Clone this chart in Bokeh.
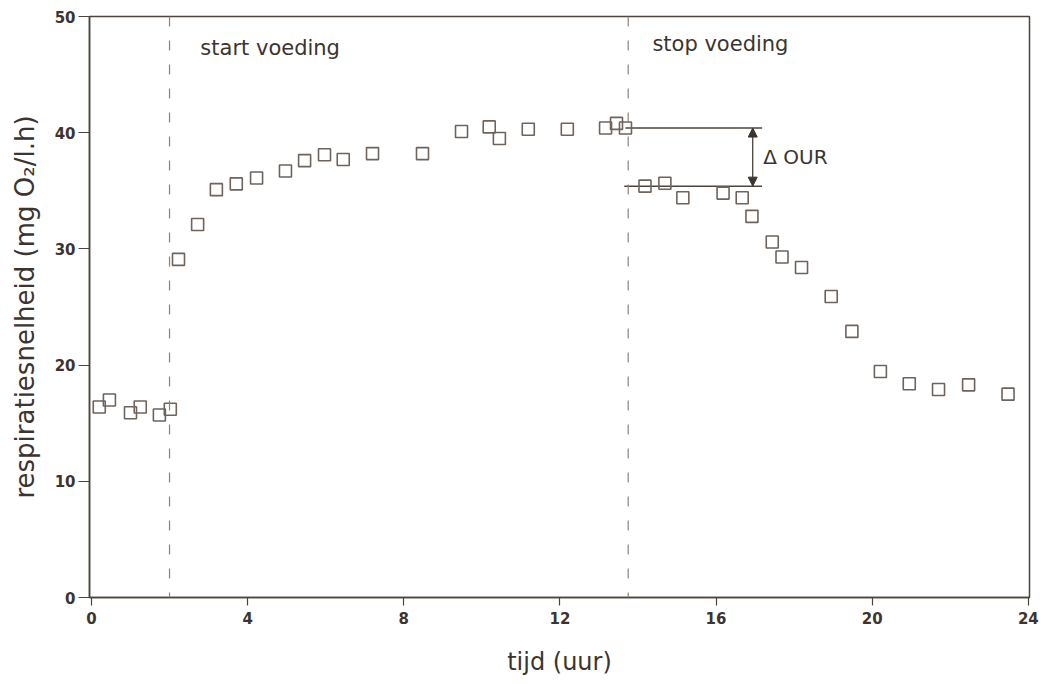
from bokeh.plotting import figure
from bokeh.models import Range1d, FixedTicker, Span, Arrow, NormalHead, Label, ColumnDataSource
from bokeh.embed import file_html
from bokeh.resources import INLINE

# Measured respiration rate (mg O2 per litre per hour) against time (hours)
tijd = [0.20, 0.46, 1.00, 1.25, 1.74, 2.02,
        2.23, 2.72, 3.20, 3.71, 4.23, 4.97, 5.46, 5.97, 6.45, 7.20, 8.48,
        9.48, 10.19, 10.45, 11.19, 12.19, 13.17, 13.45, 13.68,
        14.18, 14.69, 15.15, 16.18, 16.67, 16.92, 17.44, 17.69, 18.19,
        18.95, 19.48, 20.21, 20.95, 21.70, 22.47, 23.48]
respiratie = [16.4, 17.0, 15.9, 16.4, 15.7, 16.2,
              29.1, 32.1, 35.1, 35.6, 36.1, 36.7, 37.6, 38.1, 37.7, 38.2, 38.2,
              40.1, 40.5, 39.5, 40.3, 40.3, 40.4, 40.8, 40.4,
              35.4, 35.65, 34.4, 34.8, 34.4, 32.8, 30.6, 29.3, 28.4,
              25.9, 22.9, 19.45, 18.4, 17.9, 18.3, 17.5]

x_ticks = [0, 4, 8, 12, 16, 20, 24]
y_ticks = [0, 10, 20, 30, 40, 50]

# feeding switched on / off (hours)
start_voeding = 2.0
stop_voeding = 13.75

# oxygen uptake rate just before and just after stopping the feed
our_hoog = 40.4
our_laag = 35.4
our_lijn_start = [13.68, 13.65]
our_lijn_eind = 17.18
our_pijl_x = 16.94

ink = "#3b342f"
axis_col = "#4d443d"
marker_col = "#6e645c"
dash_col = "#8c8279"
font = "DejaVu Sans"

p = figure(width=1045, height=684,
           x_range=Range1d(-0.05, 24.03), y_range=Range1d(0, 50),
           output_backend="svg", toolbar_location=None,
           min_border_left=89, min_border_right=16,
           min_border_top=16, min_border_bottom=87,
           background_fill_color="white", border_fill_color="white")

p.xgrid.visible = False
p.ygrid.visible = False
p.outline_line_color = axis_col
p.outline_line_width = 1.5
p.outline_line_alpha = 1.0

for ax, ticks in ((p.xaxis, x_ticks), (p.yaxis, y_ticks)):
    ax.ticker = FixedTicker(ticks=ticks)
    ax.axis_line_color = axis_col
    ax.axis_line_width = 1.5
    ax.major_tick_line_color = axis_col
    ax.major_tick_line_width = 1.2
    ax.major_tick_in = 0
    ax.minor_tick_in = 0
    ax.minor_tick_out = 0
    ax.major_label_text_font = font
    ax.major_label_text_font_size = "15px"
    ax.major_label_text_font_style = "bold"
    ax.major_label_text_color = ink
    ax.axis_label_text_font = font
    ax.axis_label_text_font_style = "normal"
    ax.axis_label_text_color = ink

p.xaxis.major_tick_out = 8
p.xaxis.major_label_standoff = 6
p.xaxis.axis_label = "tijd (uur)"
p.xaxis.axis_label_text_font_size = "24px"
p.xaxis.axis_label_standoff = 21

p.yaxis.major_tick_out = 11
p.yaxis.major_label_standoff = 3
p.yaxis.axis_label = "respiratiesnelheid (mg O\u2082/l.h)"
p.yaxis.axis_label_text_font_size = "26px"
p.yaxis.axis_label_standoff = 12

# dashed markers for start and stop of feeding
for loc in (start_voeding, stop_voeding):
    p.add_layout(Span(location=loc, dimension="height", line_color=dash_col,
                      line_width=1.2, line_dash="10 14"))

# levels before and after the feed stop
p.segment(x0=our_lijn_start, y0=[our_hoog, our_laag],
          x1=[our_lijn_eind, our_lijn_eind], y1=[our_hoog, our_laag],
          line_color=axis_col, line_width=1.5)

p.add_layout(Arrow(start=NormalHead(size=9, fill_color=ink, line_color=ink),
                   end=NormalHead(size=9, fill_color=ink, line_color=ink),
                   x_start=our_pijl_x, y_start=our_laag,
                   x_end=our_pijl_x, y_end=our_hoog,
                   line_color=ink, line_width=1.2))

src = ColumnDataSource(data=dict(tijd=tijd, respiratie=respiratie))
p.scatter("tijd", "respiratie", source=src, marker="square", size=12,
          fill_color=None, line_color=marker_col, line_width=1.6)

p.add_layout(Label(x=2.79, y=47.3, text="start voeding", text_font=font,
                   text_font_size="21px", text_color=ink, text_baseline="alphabetic"))
p.add_layout(Label(x=14.37, y=47.6, text="stop voeding", text_font=font,
                   text_font_size="21px", text_color=ink, text_baseline="alphabetic"))
p.add_layout(Label(x=17.21, y=37.9, text="\u0394 OUR", text_font=font,
                   text_font_size="20px", text_color=ink, text_baseline="middle"))

open("out.html", "w").write(file_html(p, INLINE))
